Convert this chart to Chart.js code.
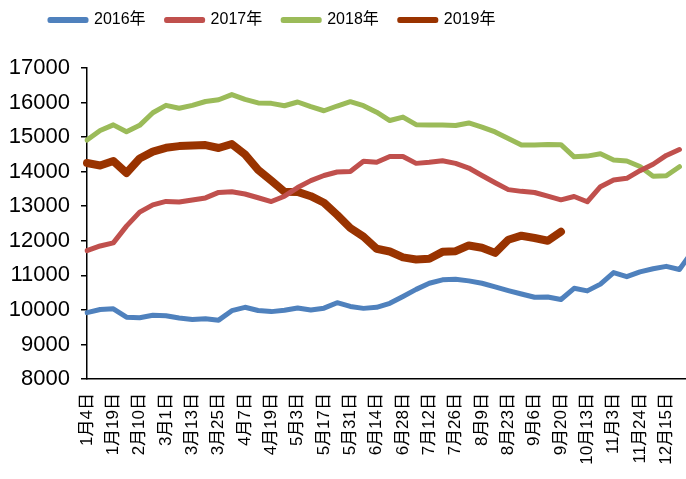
<!DOCTYPE html>
<html>
<head>
<meta charset="utf-8">
<script src="https://cdn.jsdelivr.net/npm/chart.js@4.4.1/dist/chart.umd.min.js"></script>
<style>
  html, body { margin: 0; padding: 0; background: #fff; overflow: hidden; }
  /* the original picture is cropped on the right, so the canvas runs a bit past the window */
  #wrap { position: relative; width: 719px; height: 479px; }
</style>
</head>
<body>
<div id="wrap"><canvas id="myChart"></canvas></div>
<script>
// categories (weekly), every 2nd one is labelled on the axis
const weeks = [
  "1月4日", "1月11日", "1月19日", "1月26日", "2月10日", "2月17日", "3月1日", "3月7日",
  "3月13日", "3月19日", "3月25日", "4月1日", "4月7日", "4月13日", "4月19日", "4月26日",
  "5月3日", "5月10日", "5月17日", "5月24日", "5月31日", "6月7日", "6月14日", "6月21日",
  "6月28日", "7月5日", "7月12日", "7月19日", "7月26日", "8月2日", "8月9日", "8月16日",
  "8月23日", "8月30日", "9月6日", "9月13日", "9月20日", "9月27日", "10月13日", "10月23日",
  "11月3日", "11月13日", "11月24日", "12月4日", "12月15日", "12月22日", "12月29日"
];

const y2016 = [
  9920, 10010, 10030, 9790, 9775, 9843, 9828, 9765, 9722, 9745, 9703, 9977,
  10075, 9981, 9950, 9990, 10055, 9998, 10050, 10208, 10100, 10044, 10075, 10190,
  10390, 10594, 10770, 10870, 10885, 10840, 10770, 10665, 10560, 10460, 10365, 10375,
  10300, 10624, 10550, 10745, 11080, 10960, 11100, 11190, 11260, 11170, 11700
];
const y2017 = [
  11713, 11850, 11940, 12425, 12830, 13040, 13140, 13120, 13180, 13240, 13400, 13420,
  13353, 13245, 13135, 13290, 13540, 13740, 13890, 13990, 14005, 14300, 14270, 14440,
  14440, 14240, 14270, 14317, 14240, 14105, 13890, 13680, 13480, 13430, 13397, 13290,
  13185, 13280, 13130, 13565, 13760, 13807, 14030, 14215, 14470, 14640, null
];
const y2018 = [
  14915, 15190, 15355, 15157, 15340, 15705, 15920, 15836, 15920, 16030, 16082, 16230,
  16090, 15990, 15977, 15908, 16016, 15880, 15763, 15900, 16024, 15910, 15720, 15480,
  15580, 15360, 15350, 15350, 15335, 15410, 15290, 15150, 14960, 14770, 14771, 14785,
  14780, 14430, 14450, 14520, 14340, 14310, 14150, 13870, 13880, 14143, null
];
const y2019 = [
  14250, 14180, 14310, 13960, 14380, 14580, 14690, 14740, 14760, 14770, 14685, 14800,
  14500, 14050, 13740, 13420, 13415, 13290, 13100, 12750, 12370, 12120, 11770, 11690,
  11520, 11460, 11480, 11680, 11700, 11865, 11800, 11650, 12030, 12147, 12080, 12000,
  12262
];

const seriesNames = ["2016年", "2017年", "2018年", "2019年"];
const yTicks = [8000, 17000, 1000]; // min, max, step

const FONT = "'Liberation Sans', Arial, 'Noto Sans CJK SC', sans-serif";

function makeLine(label, data, color, width) {
  return {
    label: label,
    data: data,
    borderColor: color,
    backgroundColor: color,
    borderWidth: width,
    pointRadius: 0,
    tension: 0,
    borderJoinStyle: "round",
    borderCapStyle: "round",
    spanGaps: false,
  };
}

// move the legend to where it sits in the original picture
const legendPlace = {
  id: "legendPlace",
  afterLayout(chart) {
    chart.legend.left = 29;
    chart.legend.top = -9;
  },
};

const ctx = document.getElementById("myChart");
const myChart = new Chart(ctx, {
  type: "line",
  data: {
    labels: weeks,
    datasets: [
      makeLine(seriesNames[0], y2016, "#4F81BD", 5),
      makeLine(seriesNames[1], y2017, "#C0504D", 5),
      makeLine(seriesNames[2], y2018, "#9BBB59", 5),
      makeLine(seriesNames[3], y2019, "#993300", 8),
    ],
  },
  options: {
    responsive: true,
    maintainAspectRatio: false,
    animation: false,
    layout: { padding: { top: 21, right: 0, bottom: 0, left: 0 } },
    plugins: {
      tooltip: { enabled: false },
      legend: {
        position: "top",
        align: "start",
        labels: {
          boxWidth: 36,
          boxHeight: 1,
          padding: 21,
          color: "#000",
          font: { family: FONT, size: 16 },
          generateLabels(chart) {
            const items = Chart.defaults.plugins.legend.labels.generateLabels(chart);
            items.forEach((it) => {
              it.lineWidth = 5;
              it.lineCap = "round";
              it.lineJoin = "round";
            });
            return items;
          },
        },
      },
    },
    scales: {
      x: {
        grid: { display: false },
        border: { display: true, color: "#000", width: 1.5 },
        ticks: {
          autoSkip: false,
          maxRotation: 90,
          minRotation: 90,
          padding: 6,
          color: "#000",
          font: { family: FONT, size: 17 },
          // label every second week, the last one falls off the picture
          callback: (v, i) => (i % 2 === 0 && i < weeks.length - 1 ? weeks[i] : ""),
        },
        afterFit(scale) { scale.height = 100; },
      },
      y: {
        min: yTicks[0],
        max: yTicks[1],
        grid: { display: true, drawOnChartArea: false, drawTicks: true, tickLength: 6, color: "#000", lineWidth: 1.5 },
        border: { display: true, color: "#000", width: 1.5 },
        ticks: {
          stepSize: yTicks[2],
          padding: 11,
          color: "#000",
          font: { family: FONT, size: 22 },
          callback: (v) => String(v),
        },
        afterFit(scale) { scale.width = 87; },
      },
    },
  },
  plugins: [legendPlace],
});
</script>
</body>
</html>
